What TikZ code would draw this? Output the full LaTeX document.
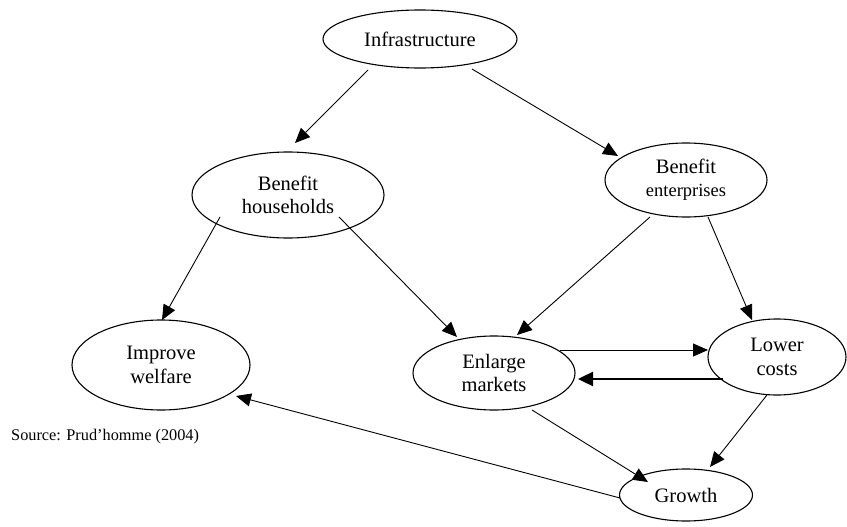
\documentclass[tikz,border=0pt]{standalone}
\usepackage{fontspec}
\setmainfont{Liberation Serif}
\usetikzlibrary{shapes.geometric,arrows.meta,calc}
\begin{document}
\begin{tikzpicture}[x=1pt,y=-1pt,
  ell/.style={draw, ellipse, line width=1.1pt, inner sep=0pt, align=center,
    font=\fontsize{20.5}{23.5}\selectfont},
  arr/.style={line width=0.9pt, -{Triangle[length=15pt,width=13pt]}},
  thickarr/.style={line width=2.4pt, -{Triangle[length=15pt,width=14pt]}},
  srcnote/.style={anchor=west, inner sep=0pt, font=\fontsize{16.3}{19}\selectfont}]
\useasboundingbox (0,0) rectangle (847,527);
\node[ell, minimum width=194pt, minimum height=58pt] (infra) at (420,39) {Infrastructure};
\node[ell, minimum width=192pt, minimum height=86pt] (bh) at (288,195) {Benefit\\households};
\node[ell, minimum width=162pt, minimum height=74pt] (be) at (686,180) {Benefit\\{\fontsize{18.5}{21}\selectfont enterprises}};
\node[ell, minimum width=178pt, minimum height=90pt] (iw) at (161,365) {Improve\\welfare};
\node[ell, minimum width=162pt, minimum height=74pt] (em) at (494,373) {Enlarge\\markets};
\node[ell, minimum width=138pt, minimum height=76pt] (lc) at (777,357) {Lower\\costs};
\node[ell, minimum width=133pt, minimum height=52pt] (gr) at (686,495) {Growth};
\node[srcnote] (src) at (11,437) {Source: Prud’homme (2004)};

\draw[arr] ($(infra)+(-52,31)$) -- ($(bh)+(7,-52)$);
\draw[arr] ($(infra)+(52,30)$) -- ($(be)+(-68,-24)$);
\draw[arr] ($(bh)+(-68,22)$) -- ($(iw)+(1,-45)$);
\draw[arr] ($(bh)+(51,22)$) -- ($(em)+(-37,-36)$);
\draw[arr] ($(be)+(-36,37)$) -- ($(em)+(23,-38)$);
\draw[arr] ($(be)+(22,37)$) -- ($(lc)+(-25,-37)$);
\draw[arr] ($(em)+(66,-23)$) -- ($(lc)+(-69,-7)$);
\draw[thickarr] ($(lc)+(-54,22)$) -- ($(em)+(84,6)$);
\draw[arr] ($(em)+(38,37)$) -- ($(gr)+(-38,-13)$);
\draw[arr] ($(lc)+(-10,38)$) -- ($(gr)+(24,-28)$);
\draw[arr] ($(gr)+(-66,3)$) -- ($(iw)+(75,31)$);
\end{tikzpicture}
\end{document}
